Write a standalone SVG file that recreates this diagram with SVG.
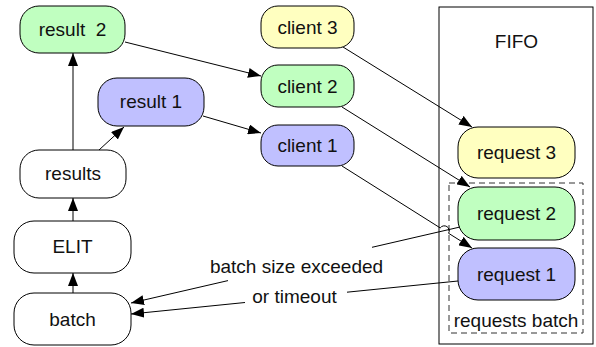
<svg xmlns="http://www.w3.org/2000/svg" width="596" height="347" viewBox="0 0 596 347">
<style>
.n{stroke:#000;stroke-width:1}
.g{fill:#c0ffc0}
.p{fill:#c0c0ff}
.y{fill:#ffffc0}
.w{fill:#fff}
text{font-family:"Liberation Sans",Arial,Helvetica,sans-serif;font-size:19px;fill:#111;text-anchor:middle}
.e{fill:none;stroke:#000;stroke-width:1;marker-end:url(#ah)}
</style>
<defs>
<marker id="ah" markerUnits="userSpaceOnUse" markerWidth="14" markerHeight="10" refX="13" refY="5" orient="auto">
<path d="M0,0 L13,5 L0,10 Z" fill="#000"/>
</marker>
</defs>
<rect width="596" height="347" fill="#fff"/>
<g id="fifo">
<rect x="439" y="7" width="154" height="337" fill="#fff" stroke="#000"/>
<text x="516.5" y="48">FIFO</text>
</g>
<g id="requests-batch">
<rect x="449" y="183" width="134" height="150" fill="none" stroke="#333" stroke-dasharray="6,4"/>
<text x="516" y="327">requests batch</text>
</g>
<g id="result2"><rect class="n g" x="20" y="6" width="105" height="47" rx="19"/><text x="72.5" y="36" xml:space="preserve">result  2</text></g>
<g id="result1"><rect class="n p" x="98" y="78" width="106" height="48" rx="19"/><text x="151" y="108">result 1</text></g>
<g id="results"><rect class="n w" x="20" y="150" width="106" height="48" rx="19"/><text x="73" y="180">results</text></g>
<g id="elit"><rect class="n w" x="14" y="221" width="117" height="52" rx="20"/><text x="72.5" y="253">ELIT</text></g>
<g id="batch"><rect class="n w" x="14" y="293" width="117" height="52" rx="20"/><text x="72.5" y="326">batch</text></g>
<g id="client3"><rect class="n y" x="261" y="6" width="93" height="42" rx="17"/><text x="307.5" y="33.5">client 3</text></g>
<g id="client2"><rect class="n g" x="261" y="65" width="93" height="42" rx="17"/><text x="307.5" y="92.5">client 2</text></g>
<g id="client1"><rect class="n p" x="261" y="125" width="93" height="41" rx="17"/><text x="307.5" y="152">client 1</text></g>
<g id="request3"><rect class="n y" x="458" y="127" width="117" height="51" rx="20"/><text x="516.5" y="159">request 3</text></g>
<g id="request2"><rect class="n g" x="458" y="187" width="117" height="53" rx="20"/><text x="516.5" y="220">request 2</text></g>
<g id="request1"><rect class="n p" x="458" y="248" width="117" height="52" rx="20"/><text x="516.5" y="280.5">request 1</text></g>
<g id="connectors">
<path class="e" d="M73,150 L73,53"/>
<path class="e" d="M99,150 L124,127"/>
<path class="e" d="M73,221 L73,198"/>
<path class="e" d="M73,293 L73,273"/>
<path class="e" d="M125,42 L261,76"/>
<path class="e" d="M203,116 L261,133"/>
<path class="e" d="M343,47 L472,127"/>
<path class="e" d="M342,107 L470,187"/>
<path class="e" d="M342,166 L440.2,227.9 A5,5 0 0 1 448.6,233.3 L472,248"/>
<path class="e" d="M460,227 L372,247.3 M228,280.6 L131,303"/>
<path class="e" d="M458,281 L347,292.2 M245,302.5 L131,314"/>
<text x="296.5" y="273">batch size exceeded</text>
<text x="294.5" y="303">or timeout</text>
</g>
</svg>
